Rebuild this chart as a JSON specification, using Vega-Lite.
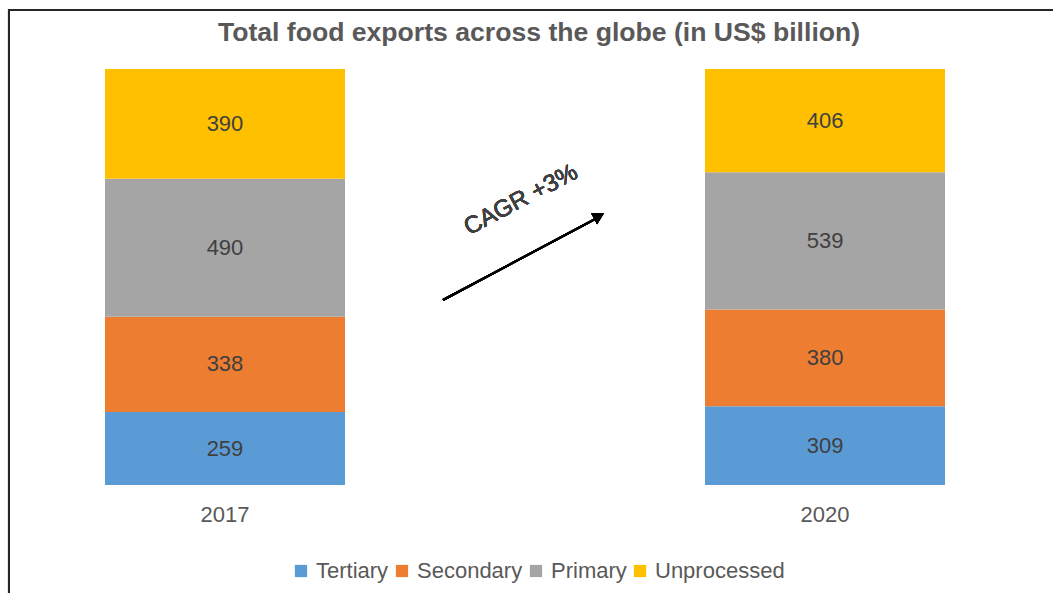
{
  "$schema": "https://vega.github.io/schema/vega-lite/v6.json",
  "width": 1015,
  "height": 416,
  "autosize": {"type": "none"},
  "padding": {"left": 30, "top": 69, "right": 8, "bottom": 108},
  "background": "white",
  "title": {
    "text": "Total food exports across the globe (in US$ billion)",
    "font": "Liberation Sans",
    "fontSize": 26.6,
    "fontWeight": "bold",
    "color": "#595959",
    "anchor": "middle",
    "frame": "group",
    "offset": -38,
    "dx": 1.5
  },
  "data": {
    "values": [
      {"year": "2017", "category": "Tertiary", "value": 259, "k": 1},
      {"year": "2017", "category": "Secondary", "value": 338, "k": 2},
      {"year": "2017", "category": "Primary", "value": 490, "k": 3},
      {"year": "2017", "category": "Unprocessed", "value": 390, "k": 4},
      {"year": "2020", "category": "Tertiary", "value": 309, "k": 1},
      {"year": "2020", "category": "Secondary", "value": 380, "k": 2},
      {"year": "2020", "category": "Primary", "value": 539, "k": 3},
      {"year": "2020", "category": "Unprocessed", "value": 406, "k": 4}
    ]
  },
  "layer": [
    {
      "transform": [
        {"stack": "value", "groupby": ["year"], "sort": [{"field": "k"}], "offset": "normalize", "as": ["y0", "y1"]}
      ],
      "encoding": {
        "x": {
          "field": "year",
          "type": "nominal",
          "scale": {"paddingInner": 0.6, "paddingOuter": 0.1458, "align": 0.4286},
          "axis": {
            "title": null,
            "labelAngle": 0,
            "domain": false,
            "ticks": false,
            "labelFont": "Liberation Sans",
            "labelFontSize": 22,
            "labelColor": "#595959",
            "labelPadding": 19
          }
        }
      },
      "layer": [
        {
          "mark": {"type": "bar"},
          "encoding": {
            "y": {"field": "y0", "type": "quantitative", "scale": {"domain": [0, 1], "nice": false, "zero": false}, "axis": null},
            "y2": {"field": "y1"},
            "color": {
              "field": "category",
              "type": "nominal",
              "sort": ["Tertiary", "Secondary", "Primary", "Unprocessed"],
              "scale": {
                "domain": ["Tertiary", "Secondary", "Primary", "Unprocessed"],
                "range": ["#5B9BD5", "#ED7D31", "#A5A5A5", "#FFC000"]
              },
              "legend": {
                "title": null,
                "orient": "bottom",
                "direction": "horizontal",
                "symbolType": "square",
                "symbolSize": 150,
                "symbolStrokeWidth": 0,
                "labelFont": "Liberation Sans",
                "labelFontSize": 22,
                "labelColor": "#595959",
                "labelOffset": 4,
                "columnPadding": 2,
                "offset": 35
              }
            }
          }
        },
        {
          "transform": [
            {"fold": ["y0", "y1"], "as": ["side", "pos"]},
            {"aggregate": [{"op": "mean", "field": "pos", "as": "mid"}], "groupby": ["year", "category", "value"]}
          ],
          "mark": {"type": "text", "font": "Liberation Sans", "fontSize": 22, "color": "#404040", "baseline": "middle", "align": "center"},
          "encoding": {
            "y": {"field": "mid", "type": "quantitative", "scale": {"domain": [0, 1], "nice": false, "zero": false}, "axis": null},
            "text": {"field": "value", "type": "quantitative"}
          }
        }
      ]
    },
    {
      "mark": {"type": "rule", "color": "#000000", "strokeWidth": 2},
      "encoding": {
        "x": {"datum": 0.4069, "type": "quantitative", "scale": {"domain": [0, 1], "nice": false, "zero": false}, "axis": null},
        "y": {"datum": 0.4447, "type": "quantitative", "scale": {"domain": [0, 1], "nice": false, "zero": false}, "axis": null},
        "x2": {"datum": 0.5585},
        "y2": {"datum": 0.6418}
      }
    },
    {
      "mark": {"type": "point", "shape": "triangle-right", "filled": true, "color": "#000000", "opacity": 1, "size": 160, "angle": -28},
      "encoding": {
        "x": {"datum": 0.5605, "type": "quantitative", "scale": {"domain": [0, 1], "nice": false, "zero": false}, "axis": null},
        "y": {"datum": 0.6466, "type": "quantitative", "scale": {"domain": [0, 1], "nice": false, "zero": false}, "axis": null}
      }
    },
    {
      "mark": {"type": "text", "text": "CAGR +3%", "font": "Liberation Sans", "fontSize": 24, "color": "#404040", "angle": -28, "align": "center", "baseline": "middle"},
      "encoding": {
        "x": {"datum": 0.4837, "type": "quantitative", "scale": {"domain": [0, 1], "nice": false, "zero": false}, "axis": null},
        "y": {"datum": 0.685, "type": "quantitative", "scale": {"domain": [0, 1], "nice": false, "zero": false}, "axis": null}
      }
    },
    {
      "mark": {"type": "rect", "fill": null, "fillOpacity": 0, "stroke": "#262626", "strokeWidth": 2},
      "encoding": {
        "x": {"datum": -0.0207, "type": "quantitative", "scale": {"domain": [0, 1], "nice": false, "zero": false}, "axis": null},
        "y": {"datum": 1.1418, "type": "quantitative", "scale": {"domain": [0, 1], "nice": false, "zero": false}, "axis": null},
        "x2": {"datum": 1.2},
        "y2": {"datum": -0.5}
      }
    }
  ],
  "resolve": {"scale": {"x": "independent", "y": "independent"}},
  "config": {
    "view": {"stroke": null},
    "legend": {"layout": {"bottom": {"anchor": "middle"}}}
  }
}
